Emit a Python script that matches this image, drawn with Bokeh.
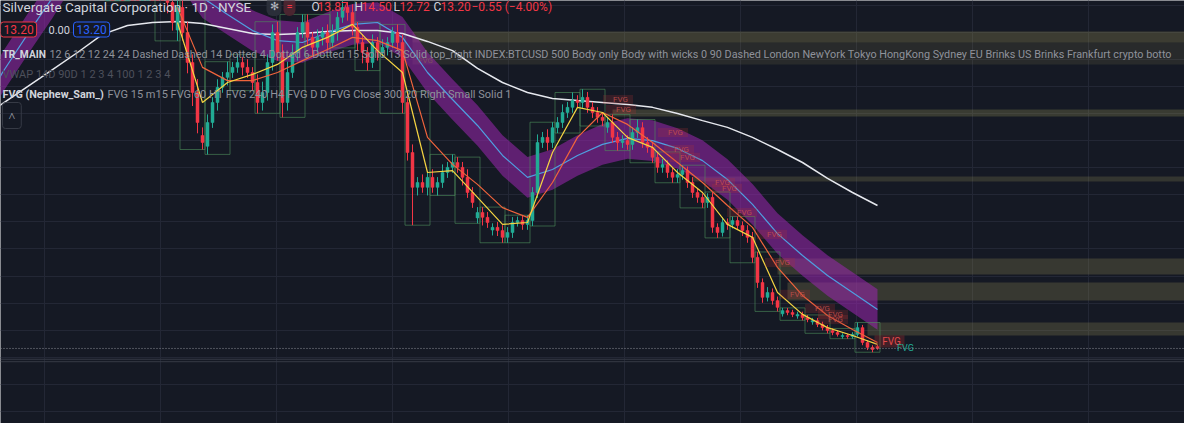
from bokeh.plotting import figure
from bokeh.models import Range1d, FixedTicker, Label, Span, ColumnDataSource
from bokeh.embed import file_html
from bokeh.resources import INLINE
from bokeh.core.properties import value

# ---------------- data (daily bars, index 0..154) ----------------
opens = [151.0, 156.0, 148.6, 154.2, 146.8, 152.3, 150.5, 146.8, 156.0, 159.7,
         157.9, 154.2, 146.0, 141.2, 131.0, 139.4, 130.1, 119.0, 107.9, 92.0,
         88.0, 96.8, 104.2, 109.8, 113.5, 115.3, 117.2, 119.0, 117.2, 115.3,
         111.6, 104.2, 107.9, 119.0, 130.1, 122.7, 104.2, 115.3, 122.7, 130.1,
         133.8, 128.3, 124.6, 128.3, 130.1, 126.4, 130.1, 135.7, 139.4, 137.5,
         132.0, 126.4, 122.7, 119.0, 126.4, 122.7, 124.6, 126.4, 130.1, 126.4,
         104.2, 85.7, 72.8, 74.6, 72.8, 76.5, 72.8, 74.6, 78.3, 80.2,
         82.0, 80.2, 76.5, 70.9, 61.5, 63.5, 61.7, 57.0, 58.0, 56.8,
         54.3, 56.1, 59.8, 60.5, 59.1, 60.5, 70.9, 89.4, 91.3, 89.4,
         94.9, 96.8, 100.5, 102.4, 104.9, 104.2, 106.1, 102.4, 100.5, 98.7,
         95.0, 96.8, 91.3, 89.4, 90.1, 88.7, 93.1, 94.9, 89.4, 87.6,
         83.9, 80.2, 81.3, 78.3, 76.5, 77.6, 79.0, 74.6, 70.9, 69.1,
         67.2, 69.1, 58.0, 56.1, 59.8, 59.1, 60.5, 58.7, 56.8, 54.3,
         46.9, 37.6, 32.1, 33.9, 30.9, 26.0, 27.2, 26.5, 25.2, 25.8,
         24.6, 23.0, 23.5, 22.1, 20.9, 19.8, 19.1, 17.6, 18.0, 17.6,
         18.4, 20.9, 15.4, 13.6, 13.87]
closes = [156.0, 148.6, 154.2, 146.8, 152.3, 150.5, 146.8, 156.0, 159.7, 157.9,
          154.2, 148.6, 141.2, 133.8, 139.4, 130.1, 119.0, 107.9, 96.8, 89.4,
          96.8, 104.2, 109.8, 113.5, 115.3, 117.2, 119.0, 117.2, 115.3, 111.6,
          104.2, 107.9, 119.0, 130.1, 122.7, 104.2, 115.3, 122.7, 130.1, 133.8,
          128.3, 124.6, 128.3, 130.1, 126.4, 130.1, 135.7, 139.4, 137.5, 132.0,
          126.4, 122.7, 119.0, 126.4, 122.7, 124.6, 126.4, 130.1, 126.4, 104.2,
          85.7, 72.8, 74.6, 72.8, 76.5, 72.8, 74.6, 78.3, 80.2, 82.0,
          80.2, 76.5, 70.9, 67.2, 63.5, 61.7, 59.8, 58.0, 56.8, 54.3,
          56.1, 59.8, 60.5, 59.1, 60.5, 70.9, 89.4, 91.3, 89.4, 94.9,
          96.8, 100.5, 102.4, 104.9, 104.2, 106.1, 102.4, 100.5, 98.7, 97.5,
          96.8, 91.3, 89.4, 90.1, 88.7, 93.1, 94.9, 89.4, 87.6, 83.9,
          80.2, 81.3, 78.3, 76.5, 77.6, 79.0, 74.6, 70.9, 69.1, 67.2,
          69.1, 58.0, 56.1, 59.8, 59.1, 60.5, 58.7, 56.8, 54.3, 46.9,
          37.6, 32.1, 33.9, 30.9, 28.4, 27.2, 26.5, 25.8, 25.8, 24.6,
          23.9, 23.5, 22.1, 20.9, 19.8, 19.1, 18.4, 18.0, 17.6, 18.4,
          20.9, 15.4, 13.6, 12.8, 13.2]
upper_wick = [3, 4, 3, 5, 2, 3, 4, 3, 2, 3,
              2, 3, 4, 3, 4, 3, 4, 3, 5, 3,
              3, 2, 3, 2, 4, 2, 3, 2, 3, 2,
              3, 4, 3, 3, 4, 3, 4, 3, 2, 3,
              3, 2, 3, 2, 3, 3, 2, 3, 2, 3,
              2, 3, 2, 3, 2, 3, 2, 2, 3, 3,
              4, 3, 2, 3, 2, 3, 2, 3, 2, 3,
              2, 2, 3, 2, 2, 2, 2, 1.5, 2, 2,
              2, 2, 1.5, 2, 2, 2, 3, 2, 3, 2,
              2, 3, 2, 3, 2, 3, 2, 2, 2, 2,
              2, 3, 2, 2, 2, 2, 3, 2, 2, 2,
              2, 2, 1.5, 2, 2, 2, 1.5, 2, 1.5, 1.5,
              1.5, 2, 1.5, 2, 1.5, 1.5, 1.5, 1.5, 2, 2,
              2, 1.5, 2, 1.5, 1.5, 1, 1, 1, 1, 1,
              1, 1, 1, 1, 1, 0.8, 0.8, 0.8, 0.6, 0.8,
              1.9, 1, 0.8, 0.8, 0.63]
lower_wick = [3, 4, 3, 5, 3, 4, 4, 3, 3, 4,
              3, 3, 4, 3, 4, 3, 4, 5, 4, 2.6,
              3, 2, 3, 2, 3, 2, 2, 3, 2, 3,
              4, 3, 3, 3, 3, 5.5, 3, 2, 3, 2,
              3, 3, 2, 3, 3, 2, 3, 2, 3, 3,
              3, 4, 3, 2, 3, 2, 3, 2, 3, 4,
              3, 14, 3, 2, 3, 2, 3, 2, 2, 2,
              2, 3, 2, 2, 2, 3, 2, 2, 2, 2,
              2, 2, 1.5, 2, 2, 2, 2, 2, 3, 2,
              2, 2, 2, 2, 2, 2, 2, 2, 2, 2,
              2, 2, 3, 2, 2, 2, 2, 2, 2, 2,
              2, 2, 2, 2, 2, 2, 2, 2, 2, 2,
              2, 2, 2, 1.5, 2, 1.5, 1.5, 2, 2, 2,
              2, 2, 1.5, 1.5, 1.5, 1, 1, 1, 1, 1,
              1, 1, 1, 1, 1, 1, 0.8, 0.8, 0.8, 0.8,
              0.8, 1, 1, 1, 0.48]

# moving averages sampled every 5 bars
ma_idx = list(range(-26, 155, 5))
sma200 = [97.5, 103.8, 110.1, 116.4, 122.7, 129.4, 132.7, 133.8, 134.2, 133.4,
          131.6, 129.7, 129.4, 129.7, 130.5, 130.8, 130.8, 129.7, 126.8, 123.4,
          116.8, 111.6, 107.9, 105.7, 104.9, 104.2, 103.5, 102.4, 100.1, 97.5,
          95.0, 91.3, 86.8, 82.0, 76.1, 70.9, 66.1]
ema50 = [98.7, 115.3, 129.4, 143.0, 157.9, 167.1, 170.8, 167.1, 156.0, 143.0,
         136.8, 130.8, 127.1, 126.4, 130.1, 133.1, 133.8, 128.3, 115.3, 105.3,
         95.7, 84.6, 76.5, 79.4, 84.6, 88.7, 90.9, 90.1, 87.2, 82.7,
         75.7, 66.5, 55.7, 47.6, 40.2, 33.9, 27.6]
fast_idx = list(range(14, 155, 5))
ema_fast = [133.8, 104.2, 111.6, 114.6, 118.3, 124.6, 128.3, 133.1, 123.4, 115.3,
            78.3, 79.0, 69.1, 59.1, 59.8, 85.7, 102.4, 100.5, 91.3, 87.6,
            78.3, 70.9, 59.1, 54.3, 33.9, 25.8, 20.9, 18.0, 14.7]
ema_mid = [139.4, 117.2, 112.3, 112.3, 115.3, 119.7, 123.8, 128.3, 127.1, 123.4,
           91.3, 81.3, 73.9, 65.3, 61.7, 74.6, 91.3, 100.5, 96.1, 89.4,
           82.0, 74.6, 66.1, 58.0, 43.2, 32.8, 25.4, 20.2, 15.4]

# open fair value gap zones (start bar, top, bottom)
zone_start = [61, 61, 101, 117, 134, 136, 152]
zone_top = [130.5, 126.4, 101.6, 76.8, 46.5, 37.6, 22.8]
zone_bottom = [126.4, 118.3, 99.0, 75.0, 40.6, 30.9, 18.0]
zone_alpha = [0.32, 0.16, 0.3, 0.25, 0.28, 0.28, 0.28]

# FVG labels
fvg_idx = [102.6, 103.2, 113.6, 114.8, 116.0, 123.0, 124.4, 127.4, 133.4, 135.0,
           138.0, 143.0, 145.6, 145.6]
fvg_price = [105.3, 101.6, 93.1, 86.8, 83.9, 74.6, 72.4, 63.5, 55.4, 45.0,
             33.2, 28.0, 25.8, 23.9]
last_price = 13.2

# ---------------- figure ----------------
BG = "#151924"
p = figure(width=1184, height=423, x_range=Range1d(-21.4, 215.4),
           y_range=Range1d(-14.57, 141.94), output_backend="svg",
           toolbar_location=None, min_border=0, background_fill_color=BG,
           border_fill_color=BG, outline_line_color=None)
p.axis.visible = False
p.xgrid.ticker = FixedTicker(ticks=[-12.6 + 23.2 * k for k in range(10)])
p.ygrid.ticker = FixedTicker(ticks=list(range(-10, 150, 10)))
p.grid.grid_line_color = "#232735"
p.grid.grid_line_width = 1

right_edge = 230
p.quad(left=zone_start, right=[right_edge] * len(zone_start), top=zone_top,
       bottom=zone_bottom, fill_color="#8f8a52", fill_alpha=zone_alpha,
       line_color=None)

# purple band around ema50
half = 7.5
p.varea(x=ma_idx, y1=[v - half for v in ema50], y2=[v + half for v in ema50],
        fill_color="#9c27b0", fill_alpha=0.55)

# weekly boxes
highs = [max(o, c) + u for o, c, u in zip(opens, closes, upper_wick)]
lows = [min(o, c) - l for o, c, l in zip(opens, closes, lower_wick)]
wl, wr, wt, wb = [], [], [], []
for s in range(0, len(closes), 5):
    e = min(s + 5, len(closes))
    wl.append(s - 0.5)
    wr.append(e - 0.5)
    wt.append(max(highs[s:e]))
    wb.append(min(lows[s:e]))
p.quad(left=wl, right=wr, top=wt, bottom=wb, fill_color=None,
       line_color="#4f8f5c", line_alpha=0.6, line_width=1)

# long averages
p.line(ma_idx, sma200, line_color="#e6e8ee", line_width=1.5)
p.line(ma_idx, ema50, line_color="#4f9fe0", line_width=1.2)

# candles
idx = list(range(len(closes)))
colors = ["#22ab94" if c >= o else "#f23645" for o, c in zip(opens, closes)]
src = ColumnDataSource(dict(x=idx, o=opens, c=closes, h=highs, l=lows,
                            top=[max(o, c) for o, c in zip(opens, closes)],
                            bot=[min(o, c) for o, c in zip(opens, closes)],
                            col=colors))
p.segment(x0="x", x1="x", y0="l", y1="h", line_color="col", line_width=1, source=src)
p.vbar(x="x", width=0.6, top="top", bottom="bot", fill_color="col",
       line_color="col", line_width=0.5, source=src)

# fast averages
p.line(fast_idx, ema_mid, line_color="#f0643c", line_width=1.2)
p.line(fast_idx, ema_fast, line_color="#f5d442", line_width=1.2)

# FVG labels with boxes
p.rect(x=[v - 0.5 for v in fvg_idx], y=fvg_price, width=6, height=3.4,
       fill_color="#b03030", fill_alpha=0.22, line_color=None)
p.text(x=fvg_idx, y=fvg_price, text=["FVG"] * len(fvg_idx),
       text_font=value("Roboto"), text_font_size="8px", text_color="#c8504c",
       text_align="center", text_baseline="middle", text_alpha=0.85)
p.text(x=[63.6], y=[119.7], text=["FVG"], text_font=value("Roboto"),
       text_font_size="8px", text_color="#8a6a50", text_align="center",
       text_baseline="middle", text_alpha=0.6)
p.rect(x=[156.4], y=[15.8], width=6, height=4.5, fill_color="#b03030",
       fill_alpha=0.3, line_color=None)
p.text(x=[156.8], y=[15.8], text=["FVG"], text_font=value("Roboto"),
       text_font_size="10px", text_color="#e04a4a", text_align="center",
       text_baseline="middle")
p.text(x=[159.6], y=[last_price], text=["FVG"], text_font=value("Roboto"),
       text_font_size="9px", text_color="#22ab94", text_align="center",
       text_baseline="middle")

# price lines
p.add_layout(Span(location=last_price, dimension="width", line_color="#8a8d96",
                  line_dash="1 2", line_width=1))
p.add_layout(Span(location=9.2, dimension="width", line_color="#363a46", line_width=1))
p.add_layout(Span(location=8.3, dimension="width", line_color="#363a46", line_width=1))

# ---------------- legend texts (screen coords, origin bottom-left) ----------------
F = "Roboto"
def lab(x, y, t, size, color, **kw):
    p.add_layout(Label(x=x, y=y, x_units="screen", y_units="screen", text=t,
                       text_font=F, text_font_size=size, text_color=color,
                       text_baseline="middle", **kw))

lab(2, 417, "Silvergate Capital Corporation · 1D · NYSE", "13.5px", "#d1d4dc")
lab(266, 417, "✻", "11px", "#b2b5be", background_fill_color="#2a2e39",
    padding=3, border_radius=6)
lab(283, 417, "=", "11px", "#f23645", background_fill_color="#4a2530",
    padding=3, border_radius=6)
lab(311, 417, "O", "12px", "#d1d4dc")
lab(317, 417, "13.87", "12px", "#f23645")
lab(354, 417, "H", "12px", "#d1d4dc")
lab(361, 417, "14.50", "12px", "#f23645")
lab(393, 417, "L", "12px", "#d1d4dc")
lab(399, 417, "12.72", "12px", "#f23645")
lab(433, 417, "C", "12px", "#d1d4dc")
lab(440, 417, "13.20", "12px", "#f23645")
lab(471, 417, "−0.55 (−4.00%)", "12px", "#f23645")

lab(0, 394, "13.20", "12px", "#f23645", border_line_color="#f23645",
    border_line_width=1, padding=3, border_radius=3, background_fill_color=BG)
lab(48, 394, "0.00", "11px", "#d1d4dc")
lab(73, 394, "13.20", "12px", "#2962ff", border_line_color="#2962ff",
    border_line_width=1, padding=3, border_radius=3, background_fill_color=BG)

lab(2, 369, "TR_MAIN", "10.2px", "#d1d4dc", text_font_style="bold")
lab(49, 369, "12 6 12 12 24 24 Dashed Dashed 14 Dotted 4 Dotted 6 Dotted 15 Solid 13 Solid "
    "top_right INDEX:BTCUSD 500 Body only Body with wicks 0 90 Dashed London NewYork "
    "Tokyo HongKong Sydney EU Brinks US Brinks Frankfurt crypto botto", "10.8px", "#8f929b")
lab(2, 349, "VWAP 14D 90D 1 2 3 4 100 1 2 3 4", "11px", "#4d505b")
lab(2, 329, "FVG (Nephew_Sam_)", "10.8px", "#d1d4dc", text_font_style="bold")
lab(107, 329, "FVG 15 m15 FVG 60 H1 FVG 240 H4 FVG D D FVG Close 300 20 Right Small Solid 1",
    "11px", "#8f929b")
lab(2, 308, "˄", "12px", "#b2b5be", border_line_color="#363a45", border_line_width=1,
    padding=6, border_radius=3)

open("out.html", "w").write(file_html(p, INLINE))
